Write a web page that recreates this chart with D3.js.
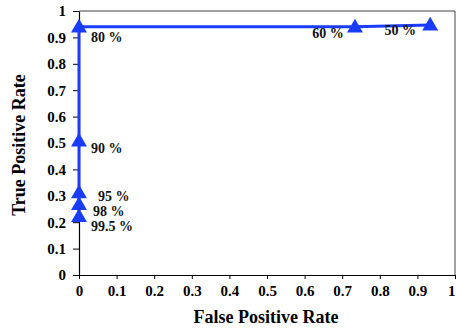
<!DOCTYPE html>
<html><head><meta charset="utf-8">
<script src="https://cdn.jsdelivr.net/npm/d3@7"></script>
<style>body{margin:0;background:#fff}svg text{font-family:"Liberation Serif","Times New Roman",serif;font-weight:bold}</style>
</head><body>
<svg id="c" width="456" height="329"></svg>
<script>
const fpr = [0.934, 0.734, 0, 0, 0, 0, 0];
const tpr = [0.947, 0.940, 0.940, 0.508, 0.312, 0.267, 0.222];
const labels = ["50 %", "60 %", "80 %", "90 %", "95 %", "98 %", "99.5 %"];
const xTicks = [0,0.1,0.2,0.3,0.4,0.5,0.6,0.7,0.8,0.9,1];
const yTicks = [0,0.1,0.2,0.3,0.4,0.5,0.6,0.7,0.8,0.9,1];
const xTitle = "False Positive Rate";
const yTitle = "True Positive Rate";
// label placement (style): dx, dy from point, anchor
const labelStyle = [
  {dx:-30,dy:10,a:"middle"},{dx:-27,dy:11,a:"middle"},{dx:12,dy:15,a:"start"},
  {dx:12,dy:12,a:"start"},{dx:19,dy:8,a:"start"},{dx:14,dy:11,a:"start"},{dx:12,dy:15,a:"start"}];

const svg = d3.select("#c");
const L=79, R=455, T=11, B=275;
const x = d3.scaleLinear().domain([0,1]).range([L,R]);
const y = d3.scaleLinear().domain([0,1]).range([B,T]);

// frame top/right
svg.append("path").attr("d",`M${L},${T}H${R}V${B}`).attr("fill","none").attr("stroke","#444").attr("stroke-width",1);

const xa = svg.append("g").attr("transform",`translate(0,${B})`)
  .call(d3.axisBottom(x).tickValues(xTicks).tickFormat(d3.format("")).tickSize(4).tickSizeOuter(0).tickPadding(12));
const ya = svg.append("g").attr("transform",`translate(${L},0)`)
  .call(d3.axisLeft(y).tickValues(yTicks).tickFormat(d3.format("")).tickSize(6).tickSizeOuter(0).tickPadding(7));
[xa,ya].forEach(g=>{g.select(".domain").attr("stroke","#000").attr("stroke-width",1.2);
  g.selectAll(".tick line").attr("stroke","#000");
  g.selectAll(".tick text").attr("font-size",15).attr("fill","#000").style("font-family","'Liberation Serif',serif").style("font-weight","bold");});
xa.selectAll(".tick text").attr("dy","0.3em").filter(d=>d===1).attr("text-anchor","end").attr("dx",0);
xa.select(".domain").attr("d",`M${L-6},0.5H${R}`);

const pts = fpr.map((v,i)=>({x:v,y:tpr[i],l:labels[i],s:labelStyle[i]}));
const line = d3.line().x(d=>x(d.x)).y(d=>y(d.y));
svg.append("path").datum(pts).attr("d",line).attr("fill","none").attr("stroke","#1a3cff").attr("stroke-width",3);
svg.selectAll(".m").data(pts).enter().append("path")
  .attr("d",d3.symbol().type(d3.symbolTriangle).size(110))
  .attr("transform",d=>`translate(${x(d.x)},${y(d.y)+1})`).attr("fill","#1a3cff");
svg.selectAll(".lb").data(pts).enter().append("text")
  .attr("x",d=>x(d.x)+d.s.dx).attr("y",d=>y(d.y)+d.s.dy).attr("text-anchor",d=>d.s.a)
  .attr("font-size",14).attr("fill","#111").text(d=>d.l);

svg.append("text").attr("x",(L+R)/2-1).attr("y",323).attr("text-anchor","middle").attr("font-size",18).text(xTitle);
svg.append("text").attr("transform",`translate(25,${(T+B)/2+2}) rotate(-90)`).attr("text-anchor","middle").attr("font-size",18).text(yTitle);
</script>
</body></html>
